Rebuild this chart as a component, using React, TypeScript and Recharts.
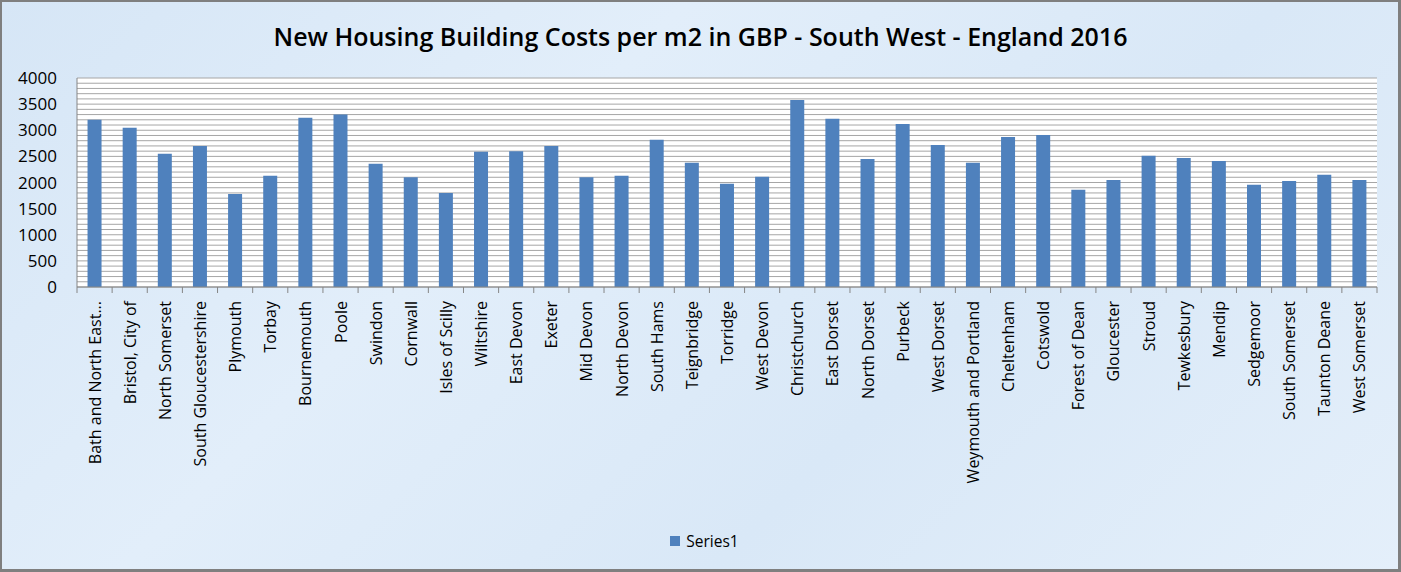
import React from 'react';
import { BarChart, Bar, XAxis, YAxis, CartesianGrid, Legend } from 'recharts';

const categories = [
  'Bath and North East...', 'Bristol, City of', 'North Somerset', 'South Gloucestershire', 'Plymouth',
  'Torbay', 'Bournemouth', 'Poole', 'Swindon', 'Cornwall', 'Isles of Scilly', 'Wiltshire',
  'East Devon', 'Exeter', 'Mid Devon', 'North Devon', 'South Hams', 'Teignbridge', 'Torridge',
  'West Devon', 'Christchurch', 'East Dorset', 'North Dorset', 'Purbeck', 'West Dorset',
  'Weymouth and Portland', 'Cheltenham', 'Cotswold', 'Forest of Dean', 'Gloucester', 'Stroud',
  'Tewkesbury', 'Mendip', 'Sedgemoor', 'South Somerset', 'Taunton Deane', 'West Somerset',
];

const costs = [
  3200, 3050, 2550, 2700, 1780,
  2130, 3240, 3300, 2360, 2100, 1800, 2590,
  2600, 2700, 2100, 2130, 2820, 2380, 1975,
  2110, 3580, 3220, 2450, 3120, 2720,
  2380, 2870, 2910, 1860, 2050, 2510,
  2470, 2410, 1955, 2030, 2150, 2050,
];

const yTicks = [0, 500, 1000, 1500, 2000, 2500, 3000, 3500, 4000];
const minorGridTicks = Array.from({ length: 41 }, (_, i) => i * 100);

const seriesName = 'Series1';
const title = 'New Housing Building Costs per m2 in GBP - South West - England 2016';

const data = categories.map((name, i) => ({ name, value: costs[i] }));

const W = 1401;
const H = 572;
const MARGIN = { top: 78, right: 24, bottom: 21, left: 0 };
const Y_AXIS_W = 77;
const PLOT_W = W - MARGIN.left - MARGIN.right - Y_AXIS_W;
const BAND = PLOT_W / categories.length;
const FONT = '"Open Sans", "Liberation Sans", sans-serif';

function XTick(props: any) {
  const { x, y, payload, index } = props;
  const last = index === categories.length - 1;
  return (
    <g>
      <line x1={x - BAND / 2} x2={x - BAND / 2} y1={y} y2={y + 6} stroke="#868686" strokeWidth={1} />
      {last && <line x1={x + BAND / 2} x2={x + BAND / 2} y1={y} y2={y + 6} stroke="#868686" strokeWidth={1} />}
      <text
        x={x}
        y={y + 14}
        transform={`rotate(-90, ${x}, ${y + 14})`}
        textAnchor="end"
        dominantBaseline="central"
        fontFamily={FONT}
        fontSize={16}
        fill="#000"
      >
        {payload.value}
      </text>
    </g>
  );
}

function LegendContent() {
  return (
    <div style={{ height: 20, display: 'flex', justifyContent: 'center', alignItems: 'center', paddingLeft: 32, fontFamily: FONT, fontSize: 15.5, color: '#000' }}>
      <span style={{ width: 10, height: 10, background: '#4f81bd', display: 'inline-block', marginRight: 6 }} />
      <span>{seriesName}</span>
    </div>
  );
}

export default function App() {
  return (
    <div style={{ position: 'fixed', left: 0, top: 0, width: W, height: H, background: 'linear-gradient(135deg, #d6e6f6 0%, #e2eefa 35%, #d9e8f7 65%, #e4effa 100%)', overflow: 'hidden' }}>
      <div style={{ position: 'absolute', left: 0, top: 20, width: W, textAlign: 'center', fontFamily: FONT, fontWeight: 600, fontSize: 25, color: '#000', lineHeight: '32px' }}>
        {title}
      </div>
      <BarChart width={W} height={H} data={data} margin={MARGIN} barCategoryGap="30%">
        <CartesianGrid
          vertical={false}
          stroke="#a6a6a6"
          fill="#ffffff"
          horizontalCoordinatesGenerator={(args: any) => {
            const sc = args?.yAxis?.scale;
            if (typeof sc === 'function') return minorGridTicks.map((v) => sc(v));
            const o = args.offset;
            return minorGridTicks.map((v) => o.top + o.height * (1 - v / 4000));
          }}
        />
        <XAxis
          dataKey="name"
          interval={0}
          height={244}
          tickSize={0}
          tickMargin={0}
          tickLine={false}
          axisLine={{ stroke: '#868686' }}
          tick={<XTick />}
        />
        <YAxis
          width={Y_AXIS_W}
          domain={[0, 4000]}
          ticks={yTicks}
          tickLine={false}
          tickSize={0}
          tickMargin={20}
          axisLine={{ stroke: '#868686' }}
          tick={{ fontFamily: FONT, fontSize: 17, fill: '#000' }}
          interval={0}
        />
        <Legend verticalAlign="bottom" content={<LegendContent />} />
        <Bar dataKey="value" name={seriesName} fill="#4f81bd" isAnimationActive={false} />
      </BarChart>
      <div style={{ position: 'absolute', left: 0, top: 0, width: W, height: H, boxSizing: 'border-box', borderTop: '2px solid #7f7f7f', borderLeft: '2px solid #7f7f7f', borderRight: '3px solid #7f7f7f', borderBottom: '3px solid #7f7f7f', pointerEvents: 'none' }} />
    </div>
  );
}
